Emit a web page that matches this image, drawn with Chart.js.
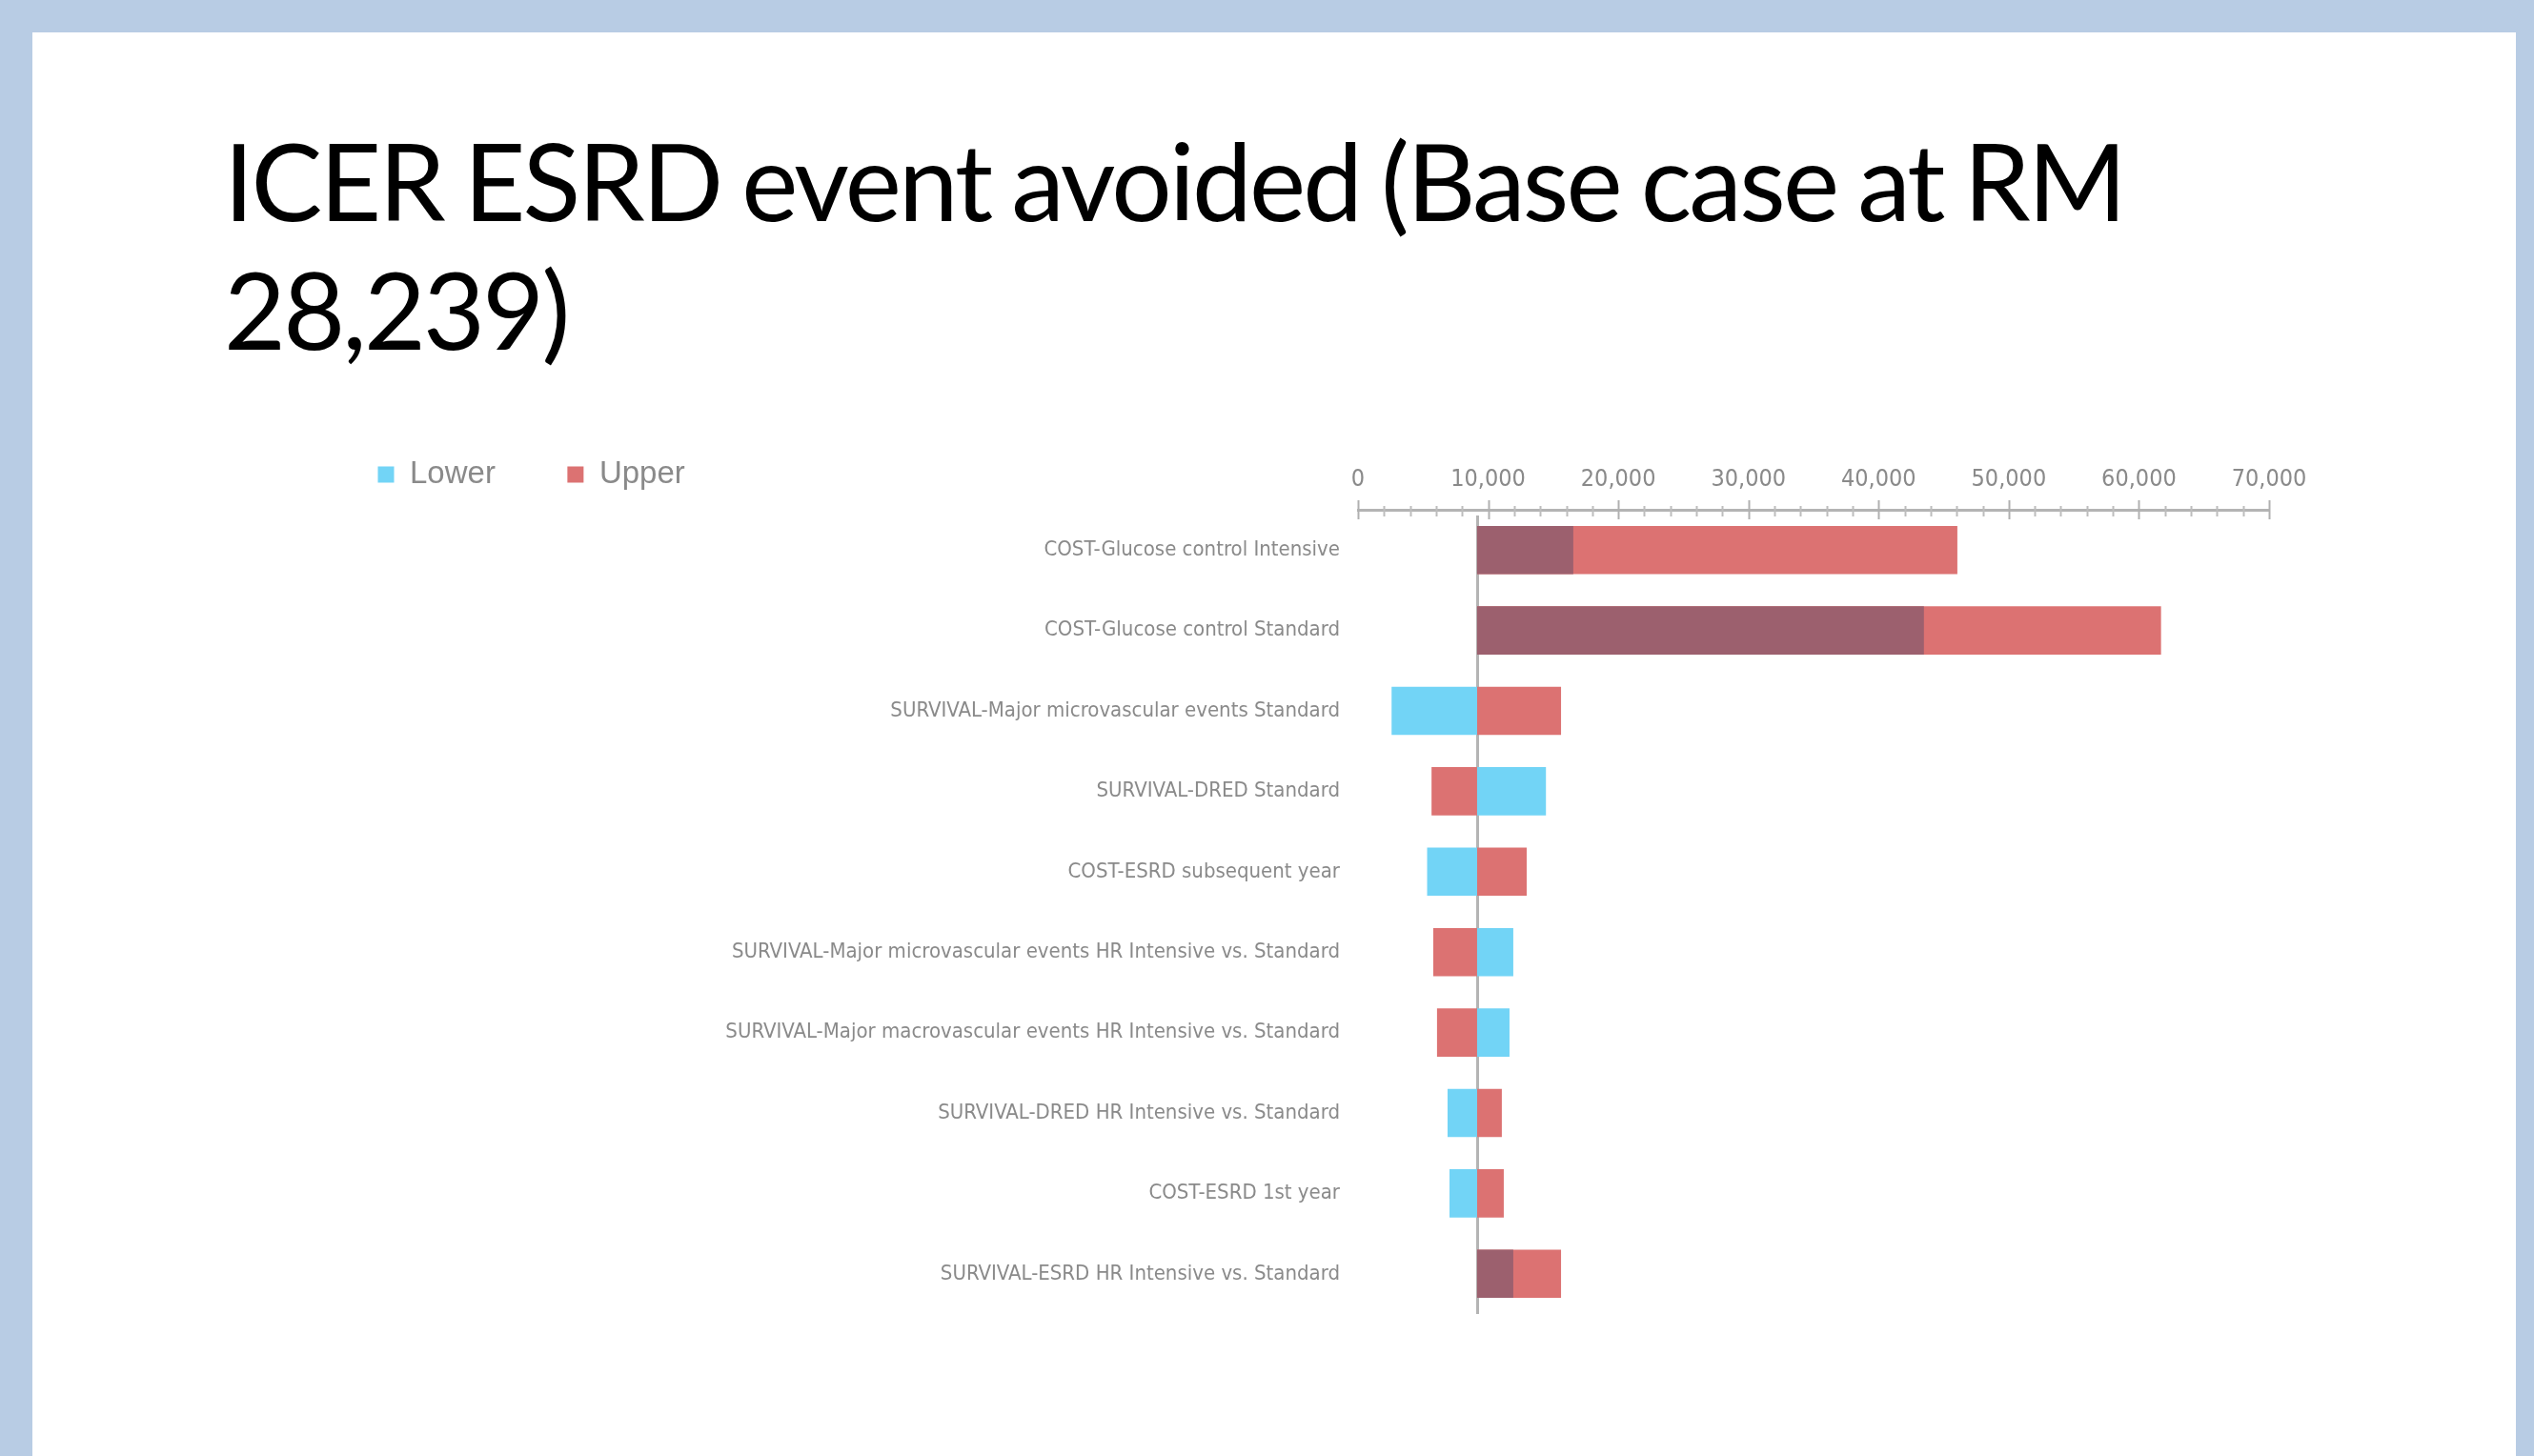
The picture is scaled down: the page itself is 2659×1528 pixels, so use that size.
<!DOCTYPE html>
<html>
<head>
<meta charset="utf-8">
<title>ICER ESRD event avoided</title>
<script src="https://cdn.jsdelivr.net/npm/chart.js@4.4.0/dist/chart.umd.min.js"></script>
<style>
  html, body { margin: 0; padding: 0; }
  body { width: 2659px; height: 1528px; background: #b8cce4; position: relative; overflow: hidden; }
  #slide { position: absolute; left: 34px; top: 34px; width: 2606px; height: 1494px; background: #fff; }
  #title { position: absolute; left: 235px; top: 121px; font-family: Lato, "Open Sans", sans-serif;
           font-size: 112px; line-height: 135px; letter-spacing: -2.8px; word-spacing: -4px;
           color: #000; white-space: nowrap; }
  #chartBox { position: absolute; left: 0; top: 0; }
</style>
</head>
<body>
<div id="slide"></div>
<div id="title">ICER ESRD event avoided (Base case at RM<br>28,239)</div>
<div id="chartBox"><canvas id="tornado" width="2659" height="1528"></canvas></div>
<script>
// Tornado chart: one-way sensitivity of the ICER per ESRD event avoided

const categories = [
    'COST-Glucose control Intensive',
    'COST-Glucose control Standard',
    'SURVIVAL-Major microvascular events Standard',
    'SURVIVAL-DRED Standard',
    'COST-ESRD subsequent year',
    'SURVIVAL-Major microvascular events HR Intensive vs. Standard',
    'SURVIVAL-Major macrovascular events HR Intensive vs. Standard',
    'SURVIVAL-DRED HR Intensive vs. Standard',
    'COST-ESRD 1st year',
    'SURVIVAL-ESRD HR Intensive vs. Standard'
];

// bar end values
const lowerValues = [16540, 43480, 2580, 14440, 5310, 11930, 11640, 6880, 7030, 11930];
const upperValues = [46050, 61700, 15600, 5650, 12960, 5780, 6070, 11050, 11200, 15600];

// where the bars start (the vertical line)
const baseValue = 9150;

const xTickValues = [0, 10000, 20000, 30000, 40000, 50000, 60000, 70000];
const xTickLabels = ['0', '10,000', '20,000', '30,000', '40,000', '50,000', '60,000', '70,000'];

const BLUE = '#72d4f6';
const RED = '#dc7272';
const MAUVE = '#9c606e';
const GREY_TEXT = '#8a8a8a';
const NARROW = "'Liberation Sans Narrow', 'DejaVu Sans Condensed', 'Arial Narrow', sans-serif";

const AXIS_TOP = 535;
const PAD = { top: 406, left: 321, right: 278, bottom: 149 };

// lower bar is drawn darker where it runs the same way as the upper bar
function lowerColor(ctx) {
    if (ctx.type !== 'data') return BLUE;
    const i = ctx.dataIndex;
    const sameSide = (lowerValues[i] - baseValue) * (upperValues[i] - baseValue) > 0;
    return sameSide ? MAUVE : BLUE;
}

const axisMarks = {
    id: 'axisMarks',
    beforeDatasetsDraw(chart) {
        const { ctx, chartArea, scales: { x } } = chart;
        const baseX = Math.round(x.getPixelForValue(baseValue)) + 0.5;

        ctx.save();
        ctx.strokeStyle = '#b4b4b4';
        ctx.lineWidth = 3;
        ctx.beginPath();
        ctx.moveTo(baseX, chartArea.top + 6);
        ctx.lineTo(baseX, chartArea.bottom);
        ctx.stroke();

        // major ticks every 10,000, minor every 2,000
        for (let v = x.min; v <= x.max; v += 2000) {
            const px = Math.round(x.getPixelForValue(v)) + 0.5;
            const major = v % 10000 === 0;
            ctx.lineWidth = 2;
            ctx.strokeStyle = major ? '#b0b0b0' : '#bdbdbd';
            ctx.beginPath();
            ctx.moveTo(px, chartArea.top - (major ? 10 : 4));
            ctx.lineTo(px, chartArea.top + (major ? 10 : 7));
            ctx.stroke();
        }
        ctx.restore();
    }
};

const legendColors = [BLUE, RED];

new Chart(document.getElementById('tornado').getContext('2d'), {
    type: 'bar',
    data: {
        labels: categories,
        datasets: [
            {
                label: 'Lower',
                data: lowerValues.map(v => [baseValue, v]),
                backgroundColor: lowerColor,
                grouped: false,
                borderWidth: 0,
                borderSkipped: false,
                barPercentage: 0.6,
                categoryPercentage: 1
            },
            {
                label: 'Upper',
                data: upperValues.map(v => [baseValue, v]),
                backgroundColor: RED,
                grouped: false,
                borderWidth: 0,
                borderSkipped: false,
                barPercentage: 0.6,
                categoryPercentage: 1
            }
        ]
    },
    options: {
        indexAxis: 'y',
        responsive: false,
        animation: false,
        events: [],
        layout: { padding: PAD },
        plugins: {
            tooltip: { enabled: false },
            legend: {
                position: 'top',
                align: 'start',
                labels: {
                    boxWidth: 17,
                    boxHeight: 17,
                    padding: 75.5,
                    color: GREY_TEXT,
                    font: { family: "'Liberation Sans', Arial, sans-serif", size: 33 },
                    generateLabels(chart) {
                        return chart.data.datasets.map((ds, i) => ({
                            text: ds.label,
                            fillStyle: legendColors[i],
                            strokeStyle: legendColors[i],
                            lineWidth: 0,
                            hidden: false,
                            datasetIndex: i,
                            fontColor: GREY_TEXT
                        }));
                    }
                }
            }
        },
        scales: {
            x: {
                type: 'linear',
                position: 'top',
                min: xTickValues[0],
                max: xTickValues[xTickValues.length - 1],
                afterBuildTicks(scale) {
                    scale.ticks = xTickValues.map(v => ({ value: v }));
                },
                afterFit(scale) {
                    const legendH = scale.chart.legend ? scale.chart.legend.height : 0;
                    scale.height = AXIS_TOP - PAD.top - legendH;
                },
                grid: { display: false, drawTicks: false },
                border: { display: true, color: '#b4b4b4', width: 3 },
                ticks: {
                    autoSkip: false,
                    maxRotation: 0,
                    minRotation: 0,
                    // mirrored with a negative padding so the labels sit above the
                    // axis line next to the legend without being clipped
                    mirror: true,
                    padding: -47,
                    color: GREY_TEXT,
                    font: { family: NARROW, size: 25 },
                    callback: (value) => {
                        const i = xTickValues.indexOf(value);
                        return i >= 0 ? xTickLabels[i] : '';
                    }
                }
            },
            y: {
                type: 'category',
                position: 'left',
                afterFit(scale) {
                    scale.width = 1425 - PAD.left;
                },
                grid: { display: false, drawTicks: false },
                border: { display: false },
                ticks: {
                    padding: 19,
                    color: GREY_TEXT,
                    font: { family: NARROW, size: 22 }
                }
            }
        }
    },
    plugins: [axisMarks]
});
</script>
</body>
</html>
